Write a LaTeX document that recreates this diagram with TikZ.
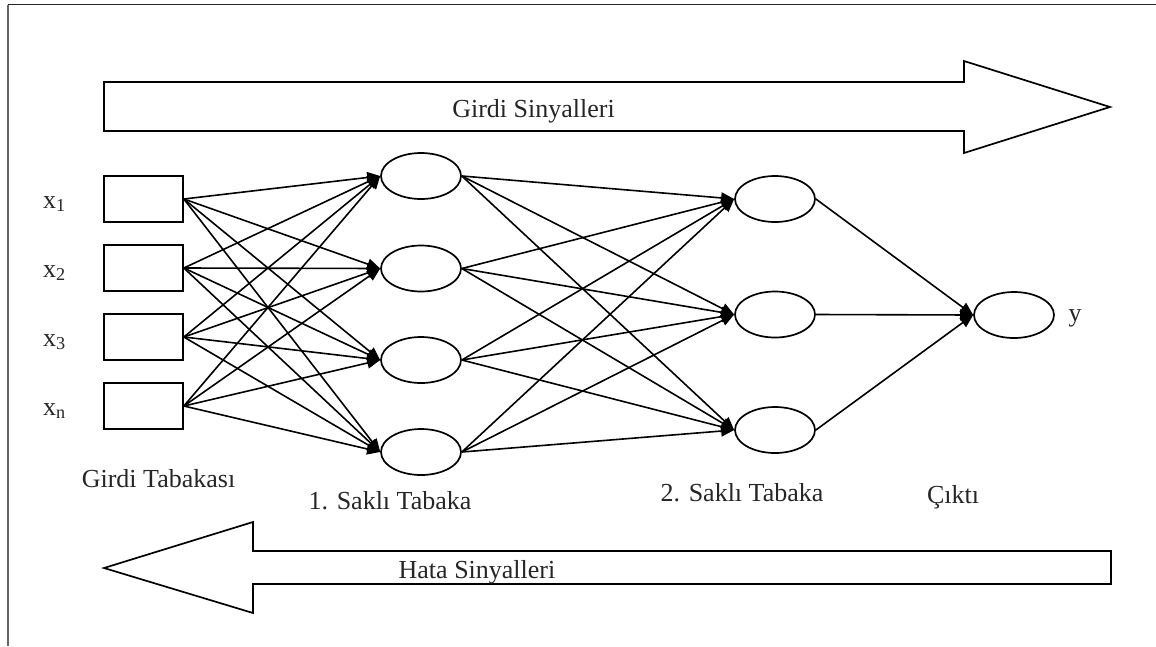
\documentclass[tikz,border=0pt]{standalone}
\usepackage{fontspec}
\setmainfont{Liberation Serif}
\usetikzlibrary{arrows.meta,shapes.geometric}

\tikzset{
  inbox/.style={draw, line width=1.7pt, rectangle, minimum width=79pt, minimum height=46pt, inner sep=0pt},
  neuron/.style={draw, line width=1.7pt, ellipse, minimum width=80pt, minimum height=46pt, inner sep=0pt},
  link/.style={line width=1.6pt, -{Triangle[length=13pt,width=11pt]}},
  bigarrow/.style={draw, line width=1.7pt, line join=miter},
  lbl/.style={text=black!85, font=\fontsize{26}{31}\selectfont, inner sep=0pt},
}

\begin{document}
\begin{tikzpicture}[x=1pt, y=-1pt]
\useasboundingbox (0,0) rectangle (1156,646);

% page frame (top and left edges)
\draw[line width=1.5pt, black!85] (8,4.5) -- (1156,4.5);
\draw[line width=2pt, black!60] (8,4.5) -- (8,646);

% forward signal arrow
\draw[bigarrow] (104,82) -- (964,82) -- (964,61) -- (1110,107) -- (964,153) -- (964,131) -- (104,131) -- cycle;
\node[lbl, anchor=base] (fwd) at (533.5,117) {Girdi Sinyalleri};

% backward error arrow
\draw[bigarrow] (1111,551) -- (253,551) -- (253,522) -- (104,568) -- (253,613) -- (253,584) -- (1111,584) -- cycle;
\node[lbl, anchor=base] (bwd) at (477,578) {Hata Sinyalleri};

% input layer
\foreach \k/\y/\s in {1/199/1, 2/268/2, 3/337/3, 4/406/n} {
  \node[inbox] (i\k) at (143.5,\y) {};
  \node[lbl, anchor=base west] (xl\k) at (43,\y+9) {x\textsubscript{\s}};
}

% first hidden layer
\foreach \k/\y in {1/176, 2/268.5, 3/360, 4/452}
  \node[neuron] (h\k) at (421,\y) {};

% second hidden layer
\foreach \k/\y in {1/199, 2/314.5, 3/430}
  \node[neuron] (g\k) at (775,\y) {};

% output neuron
\node[neuron] (o) at (1014,315) {};
\node[lbl, anchor=base] (yl) at (1075,321) {y};

% connections
\foreach \a in {1,...,4}
  \foreach \b in {1,...,4}
    \draw[link] (i\a.east) -- (h\b.west);
\foreach \a in {1,...,4}
  \foreach \b in {1,...,3}
    \draw[link] (h\a.east) -- (g\b.west);
\foreach \a in {1,...,3}
  \draw[link] (g\a.east) -- (o.west);

% layer captions
\node[lbl, anchor=base] (c1) at (158.5,487) {Girdi Tabakası};
\node[lbl, anchor=base] (c2) at (390,509) {1. Saklı Tabaka};
\node[lbl, anchor=base] (c3) at (742,501) {2. Saklı Tabaka};
\node[lbl, anchor=base] (c4) at (953,503) {Çıktı};
\end{tikzpicture}
\end{document}
